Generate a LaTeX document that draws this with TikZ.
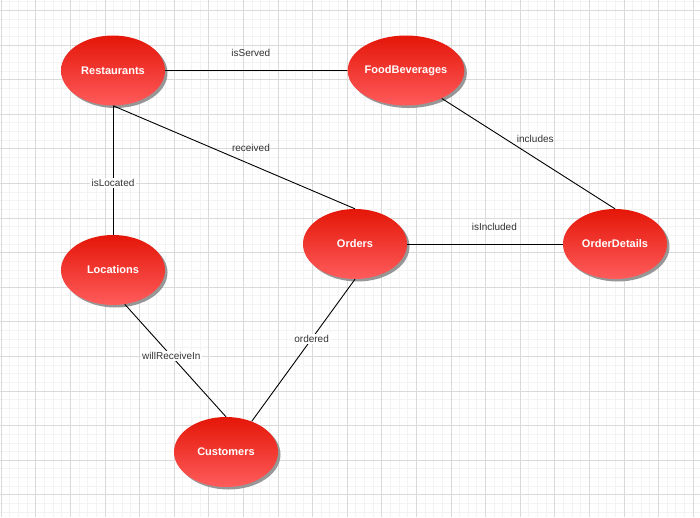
\documentclass[tikz,border=0pt]{standalone}
\usepackage{fontspec}
\setmainfont{Liberation Sans}
\usetikzlibrary{shapes.geometric,shadows}

\definecolor{enttop}{RGB}{228,22,8}
\definecolor{entbot}{RGB}{255,92,92}
\definecolor{gridmin}{RGB}{243,243,243}
\definecolor{gridmaj}{RGB}{218,218,218}
\definecolor{lbltext}{RGB}{51,51,51}

\begin{document}
\begin{tikzpicture}[x=1pt,y=-1pt,
	entity/.style={ellipse,minimum width=104pt,minimum height=70pt,inner sep=0pt,
		top color=enttop,bottom color=entbot,text=white,
		font=\bfseries\fontsize{11}{13}\selectfont,
		drop shadow={shadow xshift=2.5pt,shadow yshift=-2.5pt,fill=black!45,opacity=.9}},
	rel/.style={draw=black,line width=0.9pt},
	lbl/.style={font=\fontsize{10}{12}\selectfont,text=lbltext,inner sep=0pt},
	onlbl/.style={lbl,fill=white,inner sep=1.5pt}]
	\useasboundingbox (0,0) rectangle (700,517);
	\fill[white] (0,0) rectangle (700,517);
	\foreach \i in {0,...,80}
		\draw[gridmin,line width=1pt] ({1.2+8.65*\i},0) -- ({1.2+8.65*\i},517);
	\foreach \i in {0,...,59}
		\draw[gridmin,line width=1pt] (0,{1.85+8.65*\i}) -- (700,{1.85+8.65*\i});
	\foreach \i in {0,...,20}
		\draw[gridmaj,line width=1pt] ({1.2+34.6*\i},0) -- ({1.2+34.6*\i},517);
	\foreach \i in {0,...,14}
		\draw[gridmaj,line width=1pt] (0,{10.5+34.6*\i}) -- (700,{10.5+34.6*\i});

	\node[entity] (rest) at (113,70.5) {Restaurants};
	\node[entity] (food) at (406,70.5) {FoodBeverages};
	\node[entity] (loc) at (113,270) {Locations};
	\node[entity] (ord) at (355,244) {Orders};
	\node[entity] (odet) at (615,244) {OrderDetails};
	\node[entity] (cust) at (226,452) {Customers};

	\draw[rel] (rest.east) -- node[lbl,pos=0.47,above=13pt] (lserved) {isServed} (food.west);
	\draw[rel] (rest.south) -- node[lbl,pos=0.57,above=12pt] (lrecv) {received} (ord.north);
	\draw[rel] (rest.south) -- node[onlbl,pos=0.6] (llocated) {isLocated} (loc.north);
	\draw[rel] (food.-38.5) -- node[lbl,pos=0.54,above=15pt] (lincludes) {includes} (odet.north);
	\draw[rel] (ord.east) -- node[lbl,pos=0.56,above=13pt] (lincluded) {isIncluded} (odet.west);
	\draw[rel] (loc.-71) -- node[onlbl,pos=0.46] (lreceive) {willReceiveIn} (cust.north);
	\draw[rel] (ord.south) -- node[onlbl,pos=0.42] (lordered) {ordered} (cust.50);
\end{tikzpicture}
\end{document}
